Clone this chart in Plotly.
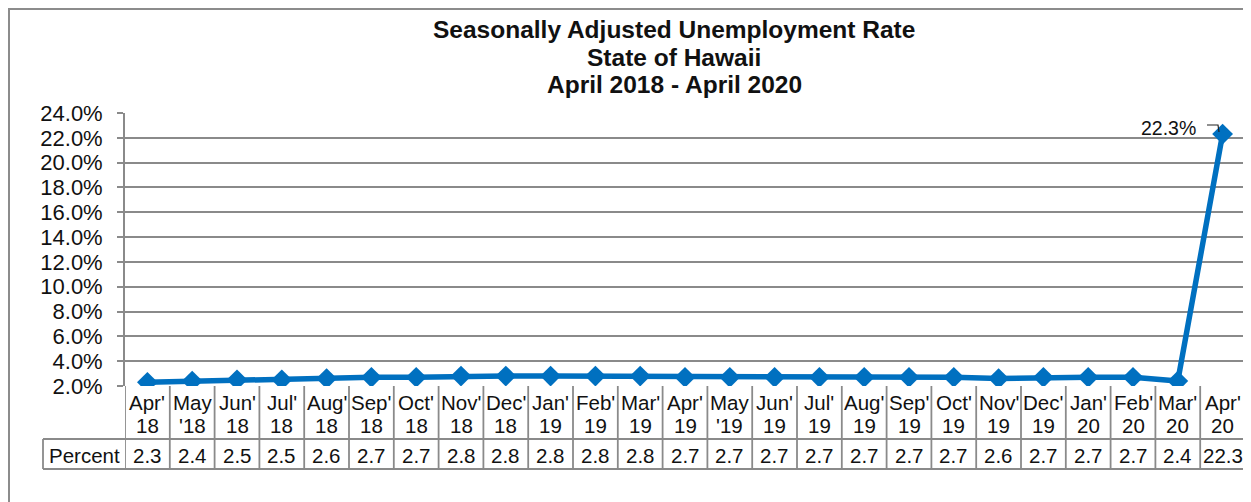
import plotly.graph_objects as go

months = ["Apr'<br>18", "May<br>'18", "Jun'<br>18", "Jul'<br>18", "Aug'<br>18", "Sep'<br>18",
          "Oct'<br>18", "Nov'<br>18", "Dec'<br>18", "Jan'<br>19", "Feb'<br>19", "Mar'<br>19",
          "Apr'<br>19", "May<br>'19", "Jun'<br>19", "Jul'<br>19", "Aug'<br>19", "Sep'<br>19",
          "Oct'<br>19", "Nov'<br>19", "Dec'<br>19", "Jan'<br>20", "Feb'<br>20", "Mar'<br>20",
          "Apr'<br>20"]
percent = [2.3, 2.4, 2.5, 2.5, 2.6, 2.7, 2.7, 2.8, 2.8, 2.8, 2.8, 2.8, 2.7, 2.7, 2.7, 2.7,
           2.7, 2.7, 2.7, 2.6, 2.7, 2.7, 2.7, 2.4, 22.3]
title_lines = ["Seasonally Adjusted Unemployment Rate", "State of Hawaii", "April 2018 - April 2020"]
row_label = "Percent"

# page body has an 8px margin; figure starts at screen (8, 8)
OFF = 8
W, H = 1251 - OFF, 502 - OFF
L, R, T, B = 125, 1245, 113, 386  # plot area in screen px
FONT = "Liberation Sans, Arial, sans-serif"
GRID = "#8a8a8a"
BLUE = "#0070C0"
TXT = "#111111"


def px_x(px):
    return (px - L) / (R - L)


def px_y(py):
    return (B - py) / (B - T)


fig = go.Figure()
fig.add_trace(go.Scatter(
    x=months, y=percent, mode="lines+markers",
    line=dict(color=BLUE, width=5.5),
    marker=dict(symbol="diamond", size=16, color=BLUE),
    hoverinfo="skip", showlegend=False,
))

shapes = []
# outer frame
shapes.append(dict(type="rect", xref="paper", yref="paper",
                   x0=px_x(9), x1=px_x(1247), y0=px_y(540), y1=px_y(9),
                   line=dict(color="#8c8c8c", width=2), layer="below"))
# table horizontal lines
for py in (439, 469):
    shapes.append(dict(type="line", xref="paper", yref="paper",
                       x0=px_x(43), x1=1, y0=px_y(py), y1=px_y(py),
                       line=dict(color=GRID, width=1.8)))
# table vertical lines at category boundaries
for i in range(len(months) + 1):
    shapes.append(dict(type="line", xref="x", yref="paper",
                       x0=i - 0.5, x1=i - 0.5, y0=px_y(386), y1=px_y(469),
                       line=dict(color=GRID, width=1.8)))
shapes.append(dict(type="line", xref="paper", yref="paper",
                   x0=px_x(43), x1=px_x(43), y0=px_y(439), y1=px_y(469),
                   line=dict(color=GRID, width=1.8)))
# leader line for label
shapes.append(dict(type="path", xref="paper", yref="paper",
                   path=f"M {px_x(1207)} {px_y(125)} L {px_x(1218)} {px_y(125)} L {px_x(1219)} {px_y(132)}",
                   line=dict(color="#222222", width=1.2)))

annotations = []
for t, py in zip(title_lines, [30, 57, 85]):
    annotations.append(dict(text=f"<b>{t}</b>", xref="paper", yref="paper",
                            x=px_x(674), y=px_y(py), xanchor="center", yanchor="middle",
                            showarrow=False, font=dict(family=FONT, size=24.5, color=TXT)))
for m, v in zip(months, percent):
    top, bottom = m.split("<br>")
    for part, py in ((top, 402), (bottom, 425)):
        annotations.append(dict(text=part, xref="x", yref="paper", x=m, y=px_y(py),
                                xanchor="center", yanchor="middle", showarrow=False,
                                font=dict(family=FONT, size=20.5, color=TXT)))
    annotations.append(dict(text=f"{v:.1f}", xref="x", yref="paper", x=m, y=px_y(455),
                            xanchor="center", yanchor="middle", showarrow=False,
                            font=dict(family=FONT, size=20.5, color=TXT)))
annotations.append(dict(text=row_label, xref="paper", yref="paper", x=px_x(84), y=px_y(455),
                        xanchor="center", yanchor="middle", showarrow=False,
                        font=dict(family=FONT, size=20.5, color=TXT)))
annotations.append(dict(text=f"{percent[-1]:.1f}%", xref="paper", yref="paper",
                        x=px_x(1198), y=px_y(128), xanchor="right", yanchor="middle",
                        showarrow=False, font=dict(family=FONT, size=19.5, color=TXT)))

fig.update_layout(
    width=W, height=H,
    margin=dict(l=L - OFF, r=W - (R - OFF), t=T - OFF, b=H - (B - OFF)),
    paper_bgcolor="white", plot_bgcolor="white",
    shapes=shapes, annotations=annotations,
    xaxis=dict(type="category", range=[-0.5, len(months) - 0.5], showticklabels=False,
               showgrid=False, zeroline=False, showline=False, fixedrange=True),
    yaxis=dict(range=[2, 24], dtick=2, tick0=0, tickformat=".1f", ticksuffix="%",
               showgrid=True, gridcolor=GRID, gridwidth=1.8, zeroline=False,
               showline=True, linecolor=GRID, linewidth=1.8,
               ticks="outside", ticklen=6, tickcolor=GRID, tickwidth=1.8,
               ticklabelstandoff=10,
               tickfont=dict(family=FONT, size=22, color=TXT), fixedrange=True),
    font=dict(family=FONT),
)

fig.write_html("out.html")
